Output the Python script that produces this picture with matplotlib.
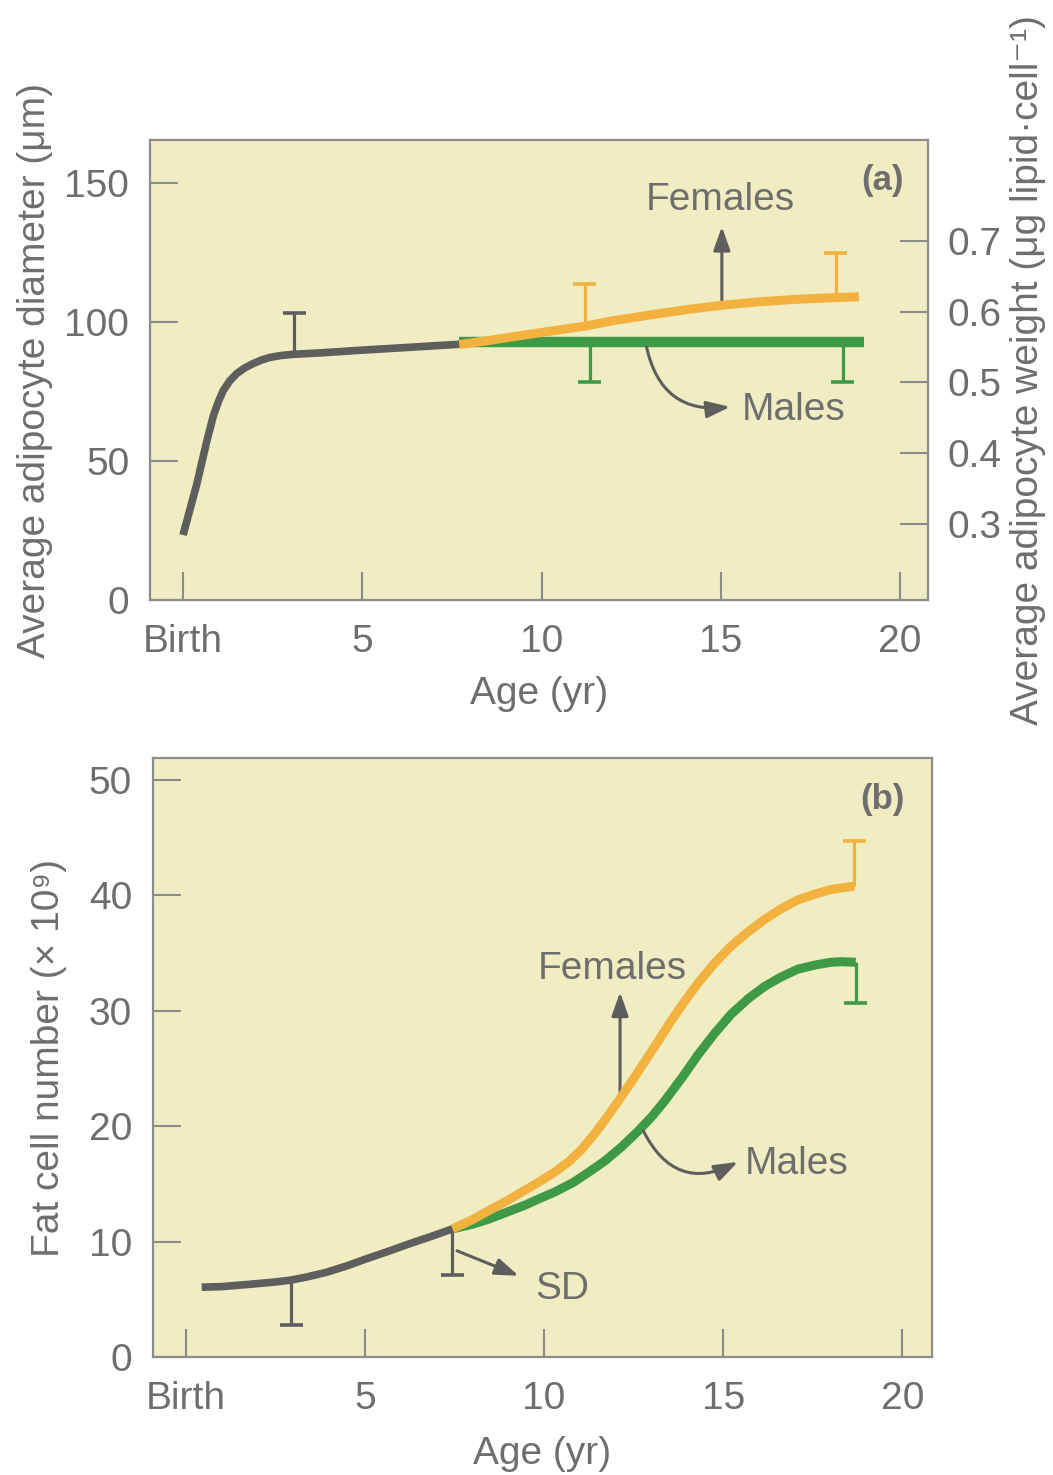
import matplotlib
matplotlib.use('Agg')
import matplotlib.pyplot as plt

# panel (a): adipocyte diameter
age_a_child = [0.0, 0.38, 0.66, 0.85, 1.0, 1.12, 1.3, 1.5, 1.72, 1.96, 2.2, 2.43,
               2.75, 3.08, 3.82, 5.0, 6.3, 7.7]
diam_child = [23.4, 41.5, 57.0, 66.5, 71.8, 75.3, 78.8, 81.5, 83.5, 85.1, 86.4, 87.3,
              88.0, 88.4, 88.9, 89.9, 90.9, 92.0]
age_a_fem = [7.7, 8.5, 9.5, 10.5, 11.2, 12.0, 13.0, 14.0, 15.0, 16.0, 17.0, 18.0, 18.85]
diam_fem = [91.9, 93.3, 95.3, 97.2, 98.5, 100.5, 102.5, 104.4, 106.0, 107.2, 108.1, 108.7, 109.1]
age_a_male = [7.7, 19.0]
diam_male = [92.8, 92.8]

# SD bars (x, mean, sd)
sd_a_child = ([3.1], [88.4], [14.7])
sd_a_fem = ([11.2, 18.2], [98.5, 108.6], [15.2, 16.1])
sd_a_male = ([11.35, 18.4], [92.8, 92.8], [14.3, 14.2])

# panel (b): fat cell number
age_b_child = [0.44, 1.0, 1.78, 2.5, 2.9, 3.4, 3.91, 4.5, 5.03, 5.6, 6.23, 6.85, 7.44]
num_child = [6.05, 6.1, 6.3, 6.5, 6.65, 6.95, 7.33, 7.9, 8.5, 9.1, 9.8, 10.45, 11.1]
age_b_fem = [7.44, 8.0, 8.46, 9.0, 9.38, 9.85, 10.31, 10.7, 11.05, 11.4, 11.75, 12.1,
             12.44, 12.8, 13.15, 13.5, 13.85, 14.3, 14.75, 15.22, 15.7, 16.15, 16.6,
             17.08, 17.55, 18.0, 18.66]
num_fem = [11.1, 11.9, 12.7, 13.6, 14.3, 15.15, 16.05, 16.95, 18.0, 19.3, 20.75, 22.3,
           23.85, 25.55, 27.2, 28.9, 30.5, 32.4, 34.1, 35.6, 36.85, 37.9, 38.8,
           39.6, 40.1, 40.5, 40.8]
age_b_male = [7.44, 8.0, 8.46, 9.0, 9.5, 9.85, 10.3, 10.8, 11.24, 11.7, 12.16, 12.6,
              13.0, 13.37, 13.85, 14.3, 14.75, 15.22, 15.7, 16.15, 16.6, 17.08,
              17.55, 18.0, 18.3, 18.7]
num_male = [11.1, 11.5, 11.95, 12.6, 13.2, 13.7, 14.3, 15.1, 16.0, 17.0, 18.2, 19.5,
            20.8, 22.2, 24.2, 26.2, 28.0, 29.7, 31.05, 32.1, 32.9, 33.6,
            33.95, 34.2, 34.25, 34.2]

sd_b_child = ([2.94, 7.44], [6.65, 11.1], [3.88, 4.0])
sd_b_fem = ([18.66], [40.8], [3.9])
sd_b_male = ([18.7], [34.2], [3.55])

x_ticks = [0, 5, 10, 15, 20]
x_labels = ['Birth', '5', '10', '15', '20']

GRAY = '#5e5e5e'
ORANGE = '#f3b23f'
GREEN = '#3f9a47'
BG = '#f0edc2'
TXT = '#6e6e6e'
SPINE = '#8c8c8c'

plt.rcParams['font.family'] = ['Liberation Sans', 'DejaVu Sans']
plt.rcParams['font.size'] = 28
plt.rcParams['text.color'] = TXT
plt.rcParams['axes.labelcolor'] = TXT

fig = plt.figure(figsize=(10.53, 14.75), dpi=100)
ax1 = fig.add_axes([0.1425, 0.5932, 0.7388, 0.3119])
ax2 = fig.add_axes([0.1453, 0.080, 0.7398, 0.4061])


def style(ax):
    ax.set_facecolor(BG)
    for s in ax.spines.values():
        s.set_color(SPINE)
        s.set_linewidth(1.6)
    ax.tick_params(direction='in', length=20, width=1.5, color=SPINE,
                   labelcolor=TXT, labelsize=28)
    ax.tick_params(axis='x', pad=17)
    ax.tick_params(axis='y', pad=15)
    ax.set_xticks(x_ticks)
    ax.set_xticklabels(x_labels)


def sd(ax, data, color, up=True):
    xs, ys, ds = data
    for x, y, d in zip(xs, ys, ds):
        y2 = y + d if up else y - d
        ax.plot([x, x], [y, y2], color=color, lw=2.3, zorder=2, solid_capstyle='butt')
        ax.plot([x - 0.32, x + 0.32], [y2, y2], color=color, lw=2.6, zorder=2,
                solid_capstyle='butt')


arrow_kw = dict(arrowstyle='-|>,head_length=0.42,head_width=0.15', color=GRAY, lw=2.2,
                mutation_scale=34, shrinkA=0, shrinkB=0)

# ---- panel (a)
style(ax1)
ax1.set_xlim(-0.92, 20.78)
ax1.set_ylim(0, 165.5)
ax1.set_yticks([0, 50, 100, 150])
sd(ax1, sd_a_child, GRAY)
sd(ax1, sd_a_fem, ORANGE)
sd(ax1, sd_a_male, GREEN, up=False)
ax1.plot(age_a_male, diam_male, color=GREEN, lw=7.5, solid_capstyle='butt', zorder=3)
ax1.plot(age_a_fem, diam_fem, color=ORANGE, lw=6.5, solid_capstyle='butt', zorder=4)
ax1.plot(age_a_child, diam_child, color=GRAY, lw=5.5, solid_capstyle='butt',
         solid_joinstyle='round', zorder=5)
ax1.annotate('', xy=(15.03, 134.3), xytext=(15.03, 106.1), arrowprops=arrow_kw)
ax1.annotate('', xy=(15.26, 69.5), xytext=(12.93, 91.0),
             arrowprops=dict(arrow_kw, connectionstyle='arc3,rad=0.45'))
ax1.text(15.0, 144, 'Females', ha='center', va='center')
ax1.text(15.58, 68.3, 'Males', ha='left', va='center')
ax1.text(19.5, 151, '(a)', ha='center', va='center', fontsize=25, fontweight='bold')
ax1.set_xlabel('Age (yr)', labelpad=12)
ax1.set_ylabel('Average adipocyte diameter (\u03bcm)', labelpad=8)

ax1r = ax1.twinx()
ax1r.set_ylim(0.193, 0.842)
ax1r.set_yticks([0.3, 0.4, 0.5, 0.6, 0.7])
ax1r.set_yticklabels(['0.3', '0.4', '0.5', '0.6', '0.7'])
for s in ax1r.spines.values():
    s.set_visible(False)
ax1r.tick_params(direction='in', length=20, width=1.5, color=SPINE,
                 labelcolor=TXT, labelsize=28, pad=14)
ax1r.set_ylabel('Average adipocyte weight (\u03bcg lipid\u00b7cell\u207b\u00b9)', labelpad=6)

# ---- panel (b)
style(ax2)
ax2.set_xlim(-0.92, 20.83)
ax2.set_ylim(0, 51.9)
ax2.set_yticks([0, 10, 20, 30, 40, 50])
sd(ax2, sd_b_child, GRAY, up=False)
sd(ax2, sd_b_fem, ORANGE)
sd(ax2, sd_b_male, GREEN, up=False)
ax2.plot(age_b_male, num_male, color=GREEN, lw=6.5, solid_capstyle='butt',
         solid_joinstyle='round', zorder=3)
ax2.plot(age_b_fem, num_fem, color=ORANGE, lw=6.5, solid_capstyle='butt',
         solid_joinstyle='round', zorder=4)
ax2.plot(age_b_child, num_child, color=GRAY, lw=5.5, solid_capstyle='butt',
         solid_joinstyle='round', zorder=5)
ax2.annotate('', xy=(12.12, 31.6), xytext=(12.12, 22.6), arrowprops=arrow_kw)
ax2.annotate('', xy=(15.41, 16.9), xytext=(12.77, 19.6),
             arrowprops=dict(arrow_kw, connectionstyle='arc3,rad=0.5'))
ax2.annotate('', xy=(9.29, 7.04), xytext=(7.57, 9.2), arrowprops=arrow_kw)
ax2.text(11.9, 33.6, 'Females', ha='center', va='center')
ax2.text(15.6, 16.7, 'Males', ha='left', va='center')
ax2.text(9.76, 5.9, 'SD', ha='left', va='center')
ax2.text(19.45, 48.3, '(b)', ha='center', va='center', fontsize=25, fontweight='bold')
ax2.set_xlabel('Age (yr)', labelpad=14)
ax2.set_ylabel('Fat cell number (\u00d7 10\u2079)', labelpad=16)

fig.savefig('out.png', dpi=100, facecolor='white')
